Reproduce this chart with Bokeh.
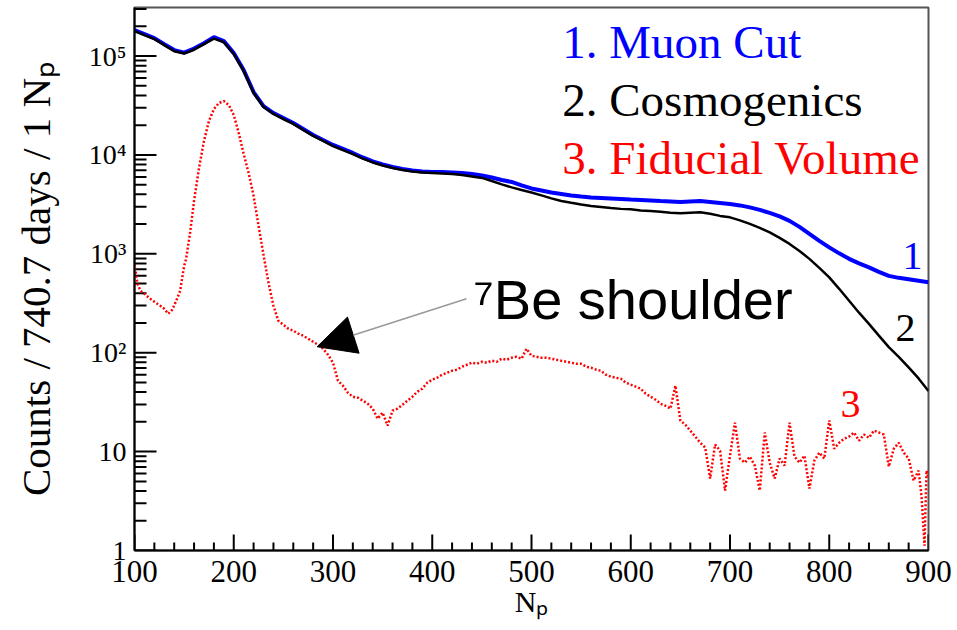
from bokeh.plotting import figure
from bokeh.models import FixedTicker, Label, Arrow, NormalHead
from bokeh.embed import file_html
from bokeh.resources import INLINE

# ---------------- data ----------------
n_grid = list(range(100, 901, 10))

muon_cut = [183000, 167000, 152000, 132000, 115000, 108500, 119000, 135000, 155600, 141700,
            107200, 72200, 43300, 31250, 26560, 23640, 21040, 18310, 15920, 14170,
            12620, 11500, 10480, 9435, 8600, 8017, 7564, 7220, 6971, 6812,
            6734, 6734, 6655, 6579, 6428, 6209, 5926, 5591, 5338, 4920,
            4587, 4379, 4180, 4037, 3900, 3808, 3720, 3678, 3636, 3594,
            3552, 3511, 3471, 3430, 3391, 3352, 3391, 3430, 3352, 3275,
            3199, 3090, 2949, 2783, 2595, 2392, 2154, 1874, 1592, 1353,
            1163, 1012, 890, 802, 730, 658, 599, 572, 553, 534, 515]

cosmogenics = [179000, 163000, 148500, 129000, 112000, 106000, 116000, 132000, 150000, 138000,
               105000, 70500, 42300, 30500, 26000, 23100, 20600, 17900, 15600, 13900,
               12300, 11200, 10200, 9200, 8400, 7830, 7390, 7050, 6810, 6660,
               6580, 6500, 6430, 6280, 6070, 5860, 5460, 5040, 4700, 4430,
               4180, 3900, 3640, 3430, 3280, 3160, 3050, 2980, 2910, 2850,
               2820, 2750, 2720, 2660, 2600, 2570, 2600, 2630, 2540, 2420,
               2340, 2180, 2010, 1830, 1650, 1450, 1260, 1070, 890, 722,
               579, 443, 335, 254, 196, 149, 114, 91, 71, 55, 41]

fv_n = [100, 103, 106, 110, 116, 120, 126, 130, 134, 138, 142, 146, 150, 152, 156, 160,
        165, 170, 175, 180, 185, 190, 195, 200, 205, 210, 215, 220, 225, 230, 235, 240,
        245, 250, 255, 260, 265, 270, 275, 280, 285, 290, 295, 300, 305, 310, 315, 320,
        325, 330, 335, 340, 345, 350, 355, 360, 365, 370, 375, 380, 385, 390, 395, 400,
        405, 410, 415, 420, 425, 430, 435, 440, 445, 450, 455, 460, 465, 470, 475, 480,
        485, 490, 495, 500, 505, 510, 515, 520, 525, 530, 535, 540, 545, 550, 555, 560,
        565, 570, 575, 580, 585, 590, 595, 600, 605, 610, 615, 620, 625, 630, 635, 640,
        645, 650, 655, 660, 665, 670, 675, 680, 685, 690, 695, 700, 705, 710, 715, 720,
        725, 730, 735, 740, 745, 750, 755, 760, 765, 770, 775, 780, 785, 790, 795, 800,
        805, 810, 815, 820, 825, 830, 835, 840, 845, 850, 855, 860, 865, 870, 875, 880,
        885, 890, 893, 896, 898, 900]

fiducial_volume = [792, 498, 423, 394, 351, 328, 298, 278, 248, 272, 335, 423, 756, 890, 1630, 3430,
                   7390, 13850, 22050, 29150, 33500, 35110, 32000, 25360, 16680, 10240, 6580, 3853, 1918, 977, 509, 298,
                   210, 192, 175, 167, 156, 148.5, 138.5, 129, 120.4, 109.7, 95.5, 79.3, 52.1, 46.4, 39.4, 35.9,
                   35.1, 32.8, 30.5, 27.2, 21.5, 24.8, 18.3, 26.0, 27.2, 29.8, 32.8, 35.9, 40.4, 43.3, 49.8, 53.4,
                   55.9, 59.9, 62.8, 65.8, 67.4, 72.2, 75.6, 79.3, 77.4, 81.1, 79.3, 83.0, 81.1, 87.0, 85.0, 89.0,
                   91.1, 87.0, 109.7, 93.3, 91.1, 89.0, 89.0, 87.0, 85.0, 83.0, 81.1, 79.3, 77.4, 77.4, 72.2, 70.5,
                   67.4, 65.8, 59.9, 57.2, 55.9, 54.6, 49.8, 47.5, 45.4, 43.3, 38.5, 35.9, 33.5, 30.5, 29.1, 27.2,
                   46.4, 20.6, 18.7, 16.3, 14.2, 12.3, 11.0, 5.34, 11.8, 10.2, 4.04, 9.11, 19.6, 8.50, 7.74, 8.90,
                   7.22, 4.04, 15.6, 7.74, 5.34, 8.50, 7.22, 19.6, 8.90, 7.74, 9.11, 4.23, 8.11, 9.77, 8.50, 20.6,
                   10.7, 12.3, 13.5, 14.2, 15.6, 12.9, 14.9, 13.8, 16.3, 15.6, 14.9, 7.05, 10.7, 12.3, 9.77, 8.50,
                   5.09, 6.43, 3.51, 1.12, 6.43, 5.34]

x_major = list(range(100, 901, 100))
x_minor = [v for v in range(100, 901, 20) if v % 100 != 0]
y_major = [1, 10, 100, 1000, 10000, 100000]
y_minor = [m * 10 ** k for k in range(0, 6) for m in range(2, 10)]
y_labels = {1: "1", 10: "10", 100: "10²", 1000: "10³", 10000: "10⁴", 100000: "10⁵"}

# ---------------- figure ----------------
SERIF = "Liberation Serif"
W, H = 955, 628
BL, BR, BT, BB = 134, 27, 7, 78
X0, X1, Y0, Y1 = 100, 900, 1, 3.1e5
p = figure(width=W, height=H, y_axis_type="log",
           x_range=(X0, X1), y_range=(Y0, Y1),
           output_backend="svg", toolbar_location=None,
           min_border_left=BL, min_border_right=BR,
           min_border_top=BT, min_border_bottom=BB)
p.grid.visible = False
p.outline_line_color = "#555555"
p.outline_line_width = 2
p.background_fill_color = "white"

p.xaxis.ticker = FixedTicker(ticks=x_major)
p.yaxis.ticker = FixedTicker(ticks=y_major)
p.yaxis.major_label_overrides = y_labels

for ax in (p.xaxis[0], p.yaxis[0]):
    ax.axis_line_width = 2
    ax.axis_line_color = "black"
    ax.major_tick_line_color = None
    ax.minor_tick_line_color = None
    ax.major_tick_out = 0
    ax.minor_tick_out = 0
    ax.major_tick_in = 0
    ax.minor_tick_in = 0
    ax.major_label_text_font = SERIF
    ax.major_label_text_color = "black"
    ax.axis_label_text_font = SERIF
    ax.axis_label_text_font_style = "normal"
    ax.axis_label_text_color = "black"

p.xaxis.major_label_text_font_size = "31px"
p.xaxis.major_label_standoff = 10
p.xaxis.axis_label = "Nₚ"
p.xaxis.axis_label_text_font_size = "30px"
p.xaxis.axis_label_standoff = 0

p.yaxis.major_label_text_font_size = "28px"
p.yaxis.major_label_standoff = 8
p.yaxis.axis_label = "Counts / 740.7 days / 1 Nₚ"
p.yaxis.axis_label_text_font_size = "41px"
p.yaxis.axis_label_standoff = 27

# inward tick marks as "dash" markers centred half a tick-length inside the frame
frame_w = W - BL - BR
frame_h = H - BT - BB
px_per_x = frame_w / (X1 - X0)
px_per_dec = frame_h / 5.4914  # log10(Y1)


def up(px):
    return 10 ** (px / px_per_dec)


def right(px):
    return X0 + px / px_per_x


p.scatter(x=x_major, y=[up(8)] * len(x_major), marker="dash", size=16, angle=1.5708,
          line_color="black", line_width=2)
p.scatter(x=x_minor, y=[up(4)] * len(x_minor), marker="dash", size=8, angle=1.5708,
          line_color="black", line_width=2)
p.scatter(x=[right(11)] * len(y_major), y=y_major, marker="dash", size=22,
          line_color="black", line_width=2)
p.scatter(x=[right(6)] * len(y_minor), y=y_minor, marker="dash", size=12,
          line_color="black", line_width=2)

# ---------------- curves ----------------
p.line(n_grid, muon_cut, line_color="#0000ff", line_width=4)
p.line(n_grid, cosmogenics, line_color="black", line_width=2.5)
p.line(fv_n, fiducial_volume, line_color="#ff0000", line_width=2.5, line_dash="2 2")

# ---------------- annotations ----------------
p.add_layout(Arrow(end=NormalHead(size=38, fill_color="black", line_color="black"),
                   x_start=434.5, y_start=351, x_end=284, y_end=115,
                   line_color="#999999", line_width=1.5))

p.add_layout(Label(x=441.6, y=167, text="⁷Be shoulder", text_font="Liberation Sans",
                   text_font_size="56px", text_color="black"))

legend_items = [("1. Muon Cut", "#0000ff", 75640),
                ("2. Cosmogenics", "black", 19630),
                ("3. Fiducial Volume", "#ff0000", 5094)]
for txt, col, yy in legend_items:
    p.add_layout(Label(x=531, y=yy, text=txt, text_font=SERIF,
                       text_font_size="47px", text_color=col))

for txt, col, xx, yy in [("1", "#0000ff", 873.8, 700), ("2", "black", 866.7, 132),
                         ("3", "#ff0000", 811.3, 22.5)]:
    p.add_layout(Label(x=xx, y=yy, text=txt, text_font=SERIF,
                       text_font_size="40px", text_color=col))

open("out.html", "w").write(file_html(p, INLINE))
